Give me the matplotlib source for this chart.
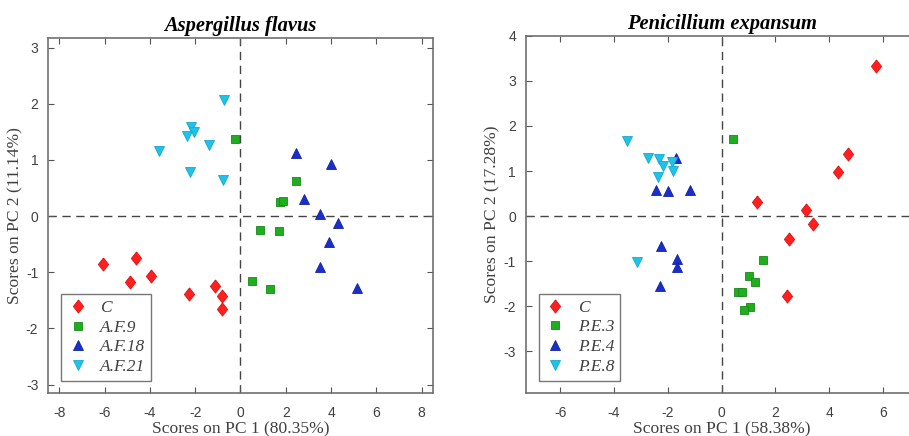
import matplotlib
matplotlib.use("Agg")
import matplotlib.pyplot as plt

# ---- Aspergillus flavus ----
af_C_x = [-6.06, -4.62, -4.87, -3.97, -2.29, -1.11, -0.81, -0.81]
af_C_y = [-0.86, -0.75, -1.18, -1.06, -1.38, -1.24, -1.43, -1.65]
af_9_x = [-0.24, 2.45, 1.73, 1.87, 0.88, 1.70, 0.53, 1.31]
af_9_y = [1.38, 0.62, 0.25, 0.27, -0.24, -0.26, -1.16, -1.30]
af_18_x = [2.45, 4.00, 2.80, 3.53, 4.31, 3.89, 3.53, 5.13]
af_18_y = [1.13, 0.93, 0.30, 0.04, -0.13, -0.46, -0.90, -1.28]
af_21_x = [-0.74, -2.18, -2.04, -2.36, -1.37, -3.61, -2.21, -0.77]
af_21_y = [2.07, 1.59, 1.49, 1.43, 1.26, 1.15, 0.78, 0.65]

# ---- Penicillium expansum ----
pe_C_x = [5.72, 4.70, 4.31, 1.30, 3.13, 3.41, 2.51, 2.44]
pe_C_y = [3.33, 1.38, 0.98, 0.31, 0.13, -0.18, -0.51, -1.77]
pe_3_x = [0.43, 1.54, 1.01, 1.24, 0.61, 0.77, 1.05, 0.84]
pe_3_y = [1.71, -0.97, -1.32, -1.46, -1.69, -1.69, -2.01, -2.09]
pe_4_x = [-1.70, -2.43, -2.01, -1.19, -2.25, -1.65, -1.67, -2.29]
pe_4_y = [1.29, 0.57, 0.55, 0.59, -0.66, -0.95, -1.13, -1.56]
pe_8_x = [-3.51, -2.73, -2.33, -2.17, -1.84, -1.80, -2.38, -3.16]
pe_8_y = [1.66, 1.28, 1.26, 1.12, 1.21, 1.00, 0.87, -1.02]

af_labels = ["C", "A.F.9", "A.F.18", "A.F.21"]
pe_labels = ["C", "P.E.3", "P.E.4", "P.E.8"]

RED, GREEN, BLUE, CYAN = "#ff1f1f", "#1fae1f", "#1a2ecc", "#1ec3ea"
EDGES = ["#e01010", "#178a17", "#14239e", "#18a8cc"]
DIAMOND = [(0, 1), (0.78, 0), (0, -1), (-0.78, 0), (0, 1)]
styles = [(DIAMOND, RED, 9.5), ("s", GREEN, 5.5), ("^", BLUE, 7.5), ("v", CYAN, 7.5)]

serif = ["Liberation Serif", "DejaVu Serif"]
sans = ["Liberation Sans", "DejaVu Sans"]
GRAY = "#404040"

fig = plt.figure(figsize=(9.09, 4.36), dpi=100)
ax1 = fig.add_axes([0.0528, 0.0986, 0.4235, 0.8142])
ax2 = fig.add_axes([0.5783, 0.0979, 0.4312, 0.8200])


def draw(ax, series, labels, title, xlab, ylab, xlim, ylim, xticks, yticks, leg_anchor):
    ax.axhline(0, color="#444444", lw=1.0, ls=(0, (6, 4)), zorder=1)
    ax.axvline(0, color="#444444", lw=1.0, ls=(0, (6, 4)), zorder=1)
    handles = []
    for (xs, ys), (m, c, ms), ec, lab in zip(series, styles, EDGES, labels):
        h, = ax.plot(xs, ys, ls="none", marker=m, color=c, ms=ms,
                     mec=ec, mew=0.6, label=lab, zorder=3)
        handles.append(h)
    ax.set_xlim(*xlim)
    ax.set_ylim(*ylim)
    ax.set_xticks(xticks)
    ax.set_yticks(yticks)
    ax.set_xticklabels([str(t) for t in xticks], family=sans, fontsize=10, color=GRAY)
    ax.set_yticklabels([str(t) for t in yticks], family=sans, fontsize=10, color=GRAY)
    ax.tick_params(axis="x", pad=9)
    ax.tick_params(axis="y", pad=7)
    ax.tick_params(direction="in", top=True, right=True, length=4, color="#555555",
                   width=0.8)
    for s in ax.spines.values():
        s.set_color("#707070")
        s.set_linewidth(1.2)
    ax.set_xlabel(xlab, family=serif, fontsize=12.6, color=GRAY, labelpad=1)
    ax.set_ylabel(ylab, family=serif, fontsize=12.6, color=GRAY, labelpad=2)
    ax.set_title(title, family=serif, fontsize=14.8, fontweight="bold", style="italic",
                 color="black", pad=5)
    leg = ax.legend(handles=handles, loc="lower left", bbox_to_anchor=leg_anchor,
                    prop={"family": serif, "style": "italic", "size": 12.5},
                    frameon=True, fancybox=False, edgecolor="#555555",
                    handlelength=1.2, handletextpad=0.7, labelspacing=0.2,
                    borderpad=0.35, borderaxespad=0.0)
    leg.get_frame().set_linewidth(1.0)
    for t in leg.get_texts():
        t.set_color(GRAY)


draw(ax1, [(af_C_x, af_C_y), (af_9_x, af_9_y), (af_18_x, af_18_y), (af_21_x, af_21_y)],
     af_labels, "Aspergillus flavus", "Scores on PC 1 (80.35%)", "Scores on PC 2 (11.14%)",
     (-8.5, 8.5), (-3.15, 3.17), [-8, -6, -4, -2, 0, 2, 4, 6, 8], [-3, -2, -1, 0, 1, 2, 3],
     (0.034, 0.034))

draw(ax2, [(pe_C_x, pe_C_y), (pe_3_x, pe_3_y), (pe_4_x, pe_4_y), (pe_8_x, pe_8_y)],
     pe_labels, "Penicillium expansum", "Scores on PC 1 (58.38%)", "Scores on PC 2 (17.28%)",
     (-7.28, 7.28), (-3.93, 4.0), [-6, -4, -2, 0, 2, 4, 6], [-3, -2, -1, 0, 1, 2, 3, 4],
     (0.033, 0.035))

fig.savefig("out.png", dpi=100)
